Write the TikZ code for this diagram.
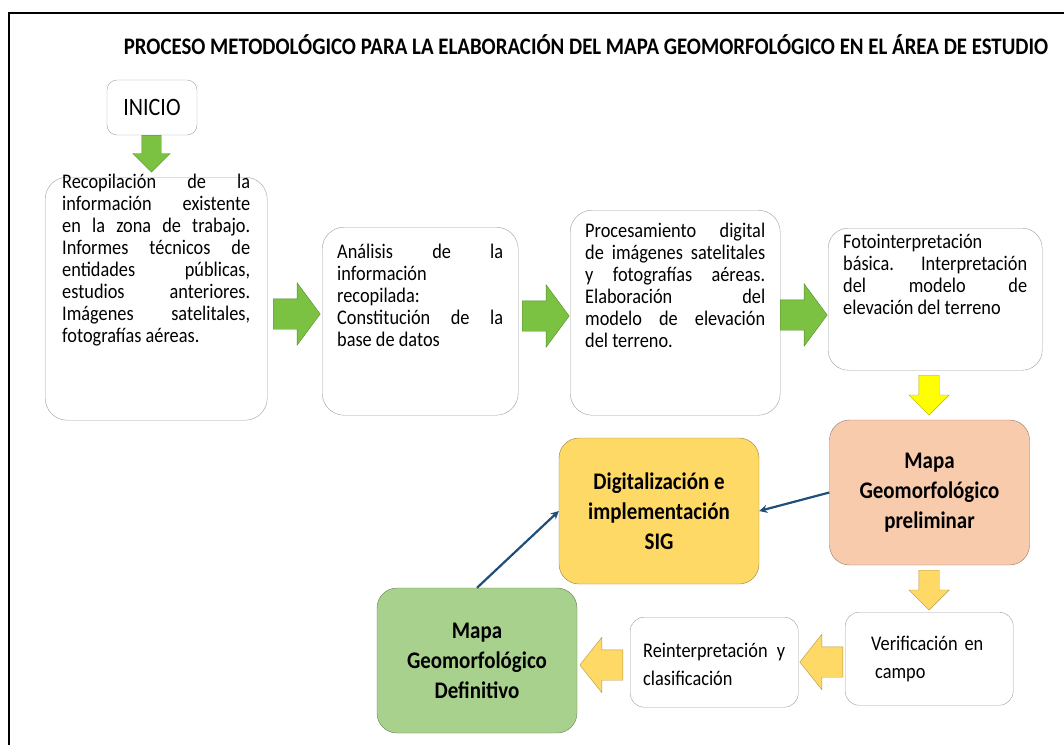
\documentclass[tikz,border=0pt]{standalone}
\usepackage{fontspec}
\setmainfont{Carlito}
\newfontfamily\estrecha[FakeStretch=0.88]{Carlito}
\usetikzlibrary{shapes.arrows,arrows.meta}

\definecolor{verdeflecha}{RGB}{124,194,66}
\definecolor{salmon}{RGB}{248,203,173}
\definecolor{oro}{RGB}{255,217,102}
\definecolor{amarillo}{RGB}{255,255,0}
\definecolor{verdemapa}{RGB}{169,209,142}
\definecolor{azul}{RGB}{31,78,121}

\tikzset{
  etapa/.style={draw=gray!75, fill=white, rounded corners=22pt, anchor=north west,
    inner xsep=15pt, inner ysep=0pt, align=justify, font=\estrecha\fontsize{20.8}{22}\selectfont},
  mapa/.style={draw=#1!60!black, fill=#1, rounded corners=20pt, minimum width=200pt,
    minimum height=145pt, align=center, font=\estrecha\bfseries\fontsize{23.8}{30}\selectfont},
  bloque/.style={single arrow, draw=#1!70!black, fill=#1, inner xsep=0pt, minimum width=0pt, anchor=tail},
  enlace/.style={draw=azul, line width=2.2pt, -{Stealth[length=8pt,width=8pt]}},
}

\begin{document}
\begin{tikzpicture}[x=1pt,y=-1pt]
  \useasboundingbox (0,0) rectangle (1064,745);
  \draw[line width=2pt] (9,745) -- (9,13);
  \draw[line width=1.5pt] (8,13) -- (1064,13);

  \node[font=\estrecha\bfseries\fontsize{23.7}{26}\selectfont] (titulo) at (586,45)
    {PROCESO METODOLÓGICO PARA LA ELABORACIÓN DEL MAPA GEOMORFOLÓGICO EN EL ÁREA DE ESTUDIO};

  \node[draw=gray!75, rounded corners=10pt, minimum width=90pt, minimum height=55pt,
    font=\estrecha\fontsize{25}{28}\selectfont] (inicio) at (152,107.5) {INICIO};

  % fila de arriba
  \node[etapa, inner xsep=17pt, text width=188pt, text height=11pt, text depth=232pt] (recopila) at (45,177)
    {Recopilación de la \linebreak información existente \linebreak en la zona de trabajo. \linebreak
     Informes técnicos de \linebreak entidades públicas, \linebreak estudios anteriores. \linebreak
     Imágenes satelitales, \linebreak fotografías aéreas.};
  \node[etapa, text width=166pt, text height=31pt, text depth=157pt] (analisis) at (322,227)
    {Análisis de la \linebreak información \linebreak recopilada: \linebreak Constitución de la \linebreak base de datos};
  \node[etapa, text width=180pt, text height=27pt, text depth=178pt] (procesa) at (570,210)
    {Procesamiento digital \linebreak de imágenes satelitales \linebreak y fotografías aéreas. \linebreak
     Elaboración del \linebreak modelo de elevación \linebreak del terreno.};
  \node[etapa, rounded corners=20pt, text width=184pt, text height=20pt, text depth=122pt] (fotoint) at (828,228)
    {Fotointerpretación \linebreak básica. Interpretación \linebreak del modelo de \linebreak elevación del terreno};

  % mapas
  \node[mapa=salmon] (preliminar) at (929.5,492.5) {Mapa\\Geomorfológico\\preliminar};
  \node[mapa=oro, minimum height=146pt] (digital) at (659,511) {Digitalización e\\implementación\\SIG};
  \node[mapa=verdemapa] (definitivo) at (477,660.5) {Mapa\\Geomorfológico\\Definitivo};

  % fila de abajo
  \node[etapa, rounded corners=14pt, inner xsep=13pt, text width=142pt, text height=40pt, text depth=50pt,
    font=\estrecha\fontsize{20.8}{28}\selectfont, align=left] (reinterp) at (630,617)
    {Reinterpretación\hfill y\\clasificación};
  \node[etapa, rounded corners=14pt, inner xsep=26pt, text width=116pt, text height=38pt, text depth=55pt,
    font=\estrecha\fontsize{20.8}{28}\selectfont, align=left] (verifica) at (845,612)
    {Verificación~en\\\hspace*{4pt}campo};

  % flechas de bloque
  \node[bloque=verdeflecha, rotate=-90, minimum height=37pt, inner ysep=9.5pt,
    single arrow head extend=9pt, single arrow tip angle=90] (f0) at (151.5,135) {};
  \foreach \nombre/\x/\y in {f1/273/314, f2/522/316, f3/780/315}
    \node[bloque=verdeflecha, minimum height=47pt, inner ysep=15pt,
      single arrow head extend=16pt, single arrow tip angle=107] (\nombre) at (\x,\y) {};
  \node[bloque=amarillo, rotate=-90, minimum height=40pt, inner ysep=10pt,
    single arrow head extend=10pt, single arrow tip angle=90] (f4) at (929,375) {};
  \node[bloque=oro, rotate=-90, minimum height=40pt, inner ysep=10pt,
    single arrow head extend=10pt, single arrow tip angle=90] (f5) at (929,570) {};
  \foreach \nombre/\x/\y in {f6/843/662, f7/623/665}
    \node[bloque=oro, rotate=180, minimum height=43pt, inner ysep=15pt,
      single arrow head extend=12.5pt, single arrow tip angle=103] (\nombre) at (\x,\y) {};

  % enlaces
  \draw[enlace] (preliminar.west) -- (digital.east);
  \draw[enlace] (definitivo.north) -- (digital.west);
\end{tikzpicture}
\end{document}
